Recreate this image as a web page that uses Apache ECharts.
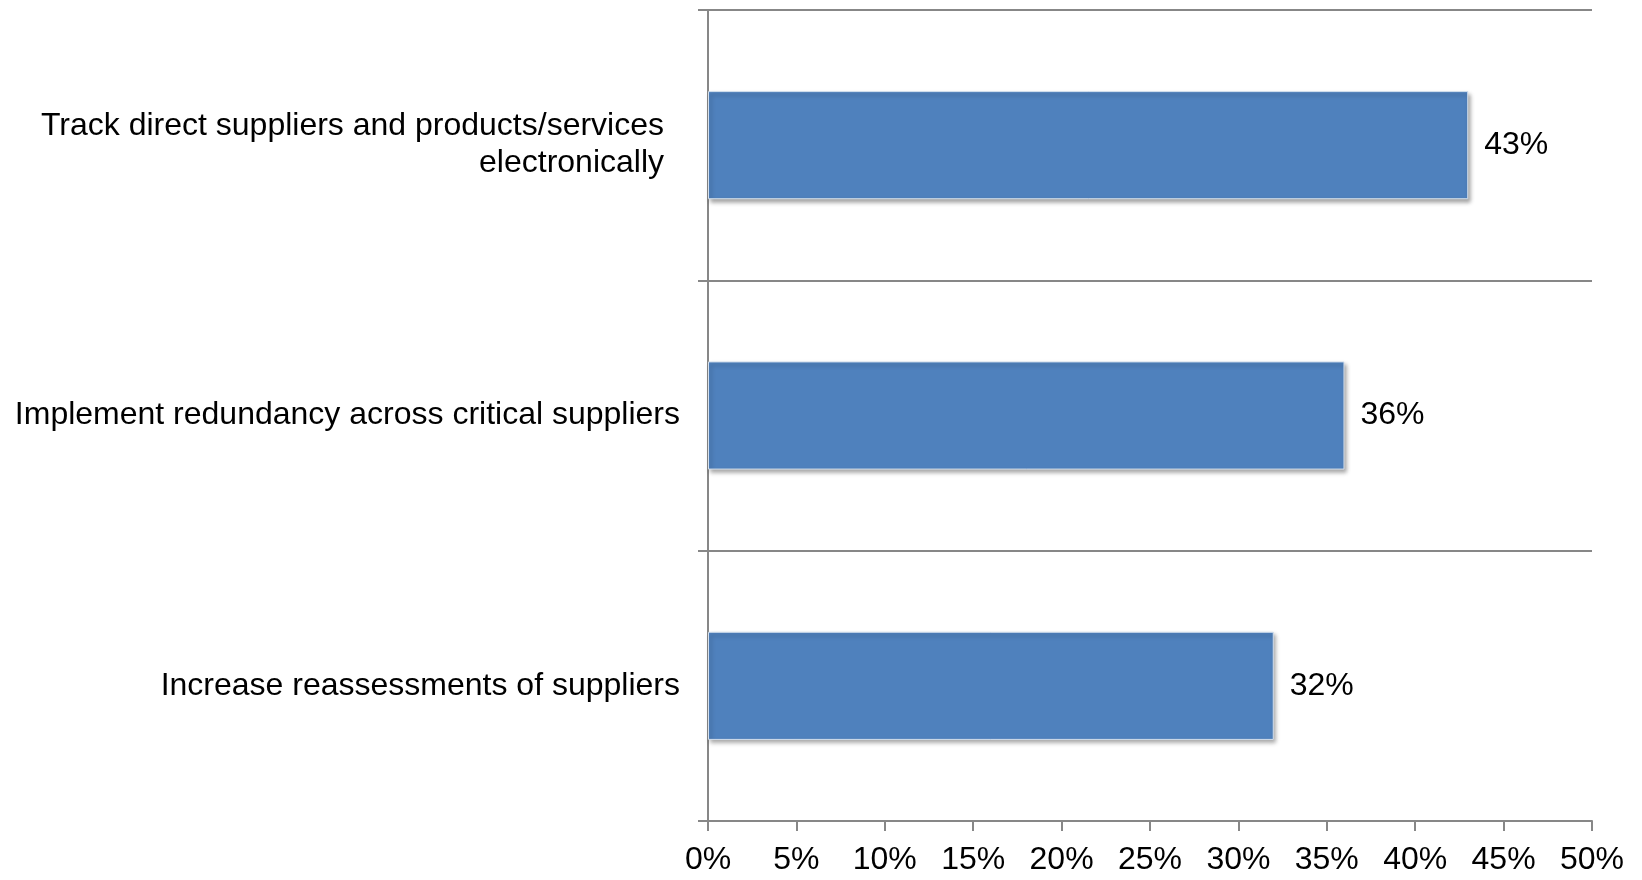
<!DOCTYPE html>
<html>
<head>
<meta charset="utf-8">
<script src="https://cdn.jsdelivr.net/npm/echarts@6/dist/echarts.min.js"></script>
<style>
  html, body { margin: 0; padding: 0; background: #ffffff; }
  #chart { width: 1642px; height: 880px; }
</style>
</head>
<body>
<div id="chart"></div>
<script>
// Supplier risk actions, share of respondents (%)
const categories = [
  'Track direct suppliers and products/services\nelectronically',
  'Implement redundancy across critical suppliers',
  'Increase reassessments of suppliers'
];
const shares = [43, 36, 32];
const xTicks = { min: 0, max: 50, interval: 5 };

const AXIS_GREY = '#878787';
const FONT = 'Liberation Sans, Arial, sans-serif';

const chart = echarts.init(document.getElementById('chart'));
chart.setOption({
  animation: false,
  backgroundColor: '#ffffff',
  grid: { left: 708, right: 50, top: 10, bottom: 59, containLabel: false },
  xAxis: {
    type: 'value',
    min: xTicks.min,
    max: xTicks.max,
    interval: xTicks.interval,
    axisLine: { show: true, lineStyle: { color: AXIS_GREY, width: 2 } },
    axisTick: { show: true, length: 10, lineStyle: { color: AXIS_GREY, width: 2 } },
    splitLine: { show: false },
    axisLabel: {
      formatter: '{value}%',
      color: '#000000',
      fontFamily: FONT,
      fontSize: 32,
      margin: 23
    }
  },
  yAxis: {
    type: 'category',
    inverse: true,
    data: categories,
    axisLine: { show: true, lineStyle: { color: AXIS_GREY, width: 2 } },
    axisTick: { show: true, length: 10, lineStyle: { color: AXIS_GREY, width: 2 } },
    splitLine: { show: true, lineStyle: { color: AXIS_GREY, width: 2 } },
    axisLabel: {
      color: '#000000',
      fontFamily: FONT,
      fontSize: 32,
      lineHeight: 37,
      align: 'right',
      margin: 28,
      formatter: function (value, idx) {
        return idx === 0 ? '{wrap|' + value + '}' : value;
      },
      rich: {
        wrap: {
          color: '#000000',
          fontFamily: FONT,
          fontSize: 32,
          lineHeight: 37,
          align: 'right',
          padding: [0, 16, 0, 0]
        }
      }
    }
  },
  series: [{
    type: 'bar',
    data: shares,
    barCategoryGap: '60%',
    itemStyle: {
      color: '#4F81BD',
      borderColor: '#D4E0EE',
      borderWidth: 1,
      shadowColor: 'rgba(0,0,0,0.35)',
      shadowBlur: 4,
      shadowOffsetX: 2,
      shadowOffsetY: 3
    },
    label: {
      show: true,
      position: 'right',
      distance: 16,
      formatter: '{c}%',
      color: '#000000',
      fontFamily: FONT,
      fontSize: 32
    }
  }]
});
</script>
</body>
</html>
